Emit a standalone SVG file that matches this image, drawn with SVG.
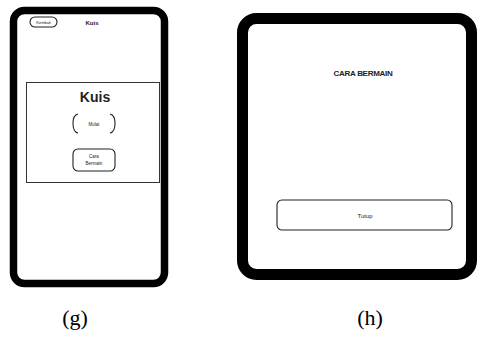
<svg xmlns="http://www.w3.org/2000/svg" width="478" height="338" viewBox="0 0 478 338">
  <style>
    .frame { fill: #ffffff; stroke: #000000; }
    .ui { fill: none; stroke: #222222; stroke-width: 1.1; }
    .sans { font-family: "Liberation Sans", Arial, sans-serif; fill: #222222; text-anchor: middle; }
    .cap { font-family: "Liberation Serif", "Times New Roman", serif; font-size: 22px; fill: #000000; text-anchor: middle; }
  </style>
  <rect width="478" height="338" fill="#ffffff"/>

  <!-- Screen (g): quiz menu -->
  <g id="screen-g">
    <rect class="frame" x="13.5" y="10.5" width="151" height="273" rx="11" stroke-width="7.5"/>
    <g id="btn-back">
      <rect class="ui" x="30" y="17" width="27" height="10" rx="5"/>
      <text class="sans" x="43.5" y="24" font-size="4">Kembali</text>
    </g>
    <text id="title-bar" class="sans" x="92" y="24.5" font-size="6" font-weight="bold">Kuis</text>
    <g id="menu-panel">
      <rect x="26.5" y="82.5" width="133" height="100" fill="none" stroke="#333333" stroke-width="1"/>
      <text class="sans" x="95" y="102" font-size="14" font-weight="bold">Kuis</text>
    </g>
    <g id="btn-start">
      <path class="ui" d="M78 114 Q73 115 73 123.5 Q73 132 78 133"/>
      <path class="ui" d="M110 114 Q115 115 115 123.5 Q115 132 110 133"/>
      <text class="sans" x="94" y="126" font-size="4.5">Mulai</text>
    </g>
    <g id="btn-howto">
      <rect class="ui" x="73" y="149" width="42" height="22" rx="5" stroke-width="1.3"/>
      <text class="sans" x="94" y="158" font-size="4.5">Cara</text>
      <text class="sans" x="94" y="165" font-size="4.5">Bermain</text>
    </g>
  </g>

  <!-- Screen (h): how to play -->
  <g id="screen-h">
    <rect class="frame" x="242.5" y="18.5" width="229" height="256" rx="14" stroke-width="11"/>
    <text id="howto-title" class="sans" x="363" y="76" font-size="8" font-weight="bold" letter-spacing="-0.3">CARA BERMAIN</text>
    <g id="btn-close">
      <rect class="ui" x="277" y="200" width="175" height="30" rx="5" stroke-width="1.2"/>
      <text class="sans" x="365" y="218" font-size="6">Tutup</text>
    </g>
  </g>

  <text class="cap" x="75" y="325">(g)</text>
  <text class="cap" x="370" y="325">(h)</text>
</svg>
